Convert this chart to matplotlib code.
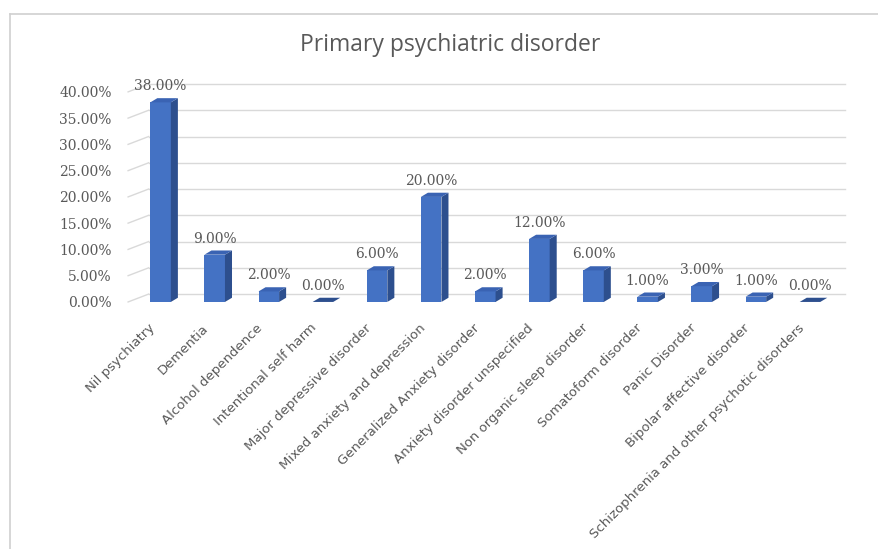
import matplotlib
matplotlib.use("Agg")
import matplotlib.pyplot as plt
from matplotlib.patches import Polygon
from matplotlib.lines import Line2D

categories = ["Nil psychiatry", "Dementia", "Alcohol dependence", "Intentional self harm",
              "Major depressive disorder", "Mixed anxiety and depression",
              "Generalized Anxiety disorder", "Anxiety disorder unspecified",
              "Non organic sleep disorder", "Somatoform disorder", "Panic Disorder",
              "Bipolar affective disorder", "Schizophrenia and other psychotic disorders"]
values = [38, 9, 2, 0, 6, 20, 2, 12, 6, 1, 3, 1, 0]
yticks = [0, 5, 10, 15, 20, 25, 30, 35, 40]

front_col = '#4472c4'
side_col = '#2d4f8e'
top_col = '#3a63b3'
grid_col = '#d9d9d9'
text_col = '#595959'

fig = plt.figure(figsize=(8.79, 5.49), dpi=100, facecolor='white')
ax = fig.add_axes([0.1445, 0.450, 0.817, 0.397])
ax.set_xlim(-0.62, 12.65)
ax.set_ylim(0, 41.5)

# back wall offset (perspective)
wall_dx, wall_dy = 0.38, 1.5
for v in yticks:
    ax.plot([-0.6, -0.6 + wall_dx], [v, v + wall_dy], color=grid_col, lw=1, clip_on=False, zorder=1)
    ax.plot([-0.6 + wall_dx, 12.65], [v + wall_dy, v + wall_dy], color=grid_col, lw=1, clip_on=False, zorder=1)

# bars with a fake 3d look
w, dx, dy = 0.38, 0.13, 0.8
x = list(range(len(categories)))
ax.bar(x, values, width=w, color=front_col, zorder=3, linewidth=0)
for xi, v in zip(x, values):
    r = xi + w / 2
    l = xi - w / 2
    ax.add_patch(Polygon([(r, 0), (r + dx, dy), (r + dx, v + dy), (r, v)],
                         closed=True, fc=side_col, ec='none', zorder=3))
    ax.add_patch(Polygon([(l, v), (r, v), (r + dx, v + dy), (l + dx, v + dy)],
                         closed=True, fc=top_col if v > 0 else side_col, ec='none', zorder=4))
    ax.annotate(f"{v:.2f}%", (xi, v), xytext=(0, 11.5), textcoords='offset points',
                ha='center', va='center', fontsize=10, family='DejaVu Serif',
                color=text_col, annotation_clip=False)

ax.set_yticks(yticks)
ax.set_yticklabels([f"{v:.2f}%" for v in yticks], family='DejaVu Serif', fontsize=10, color=text_col)
ax.tick_params(axis='y', length=0, pad=11)
ax.set_xticks([])
for s in ax.spines.values():
    s.set_visible(False)

# category labels, rotated
for xi, c in zip(x, categories):
    ax.annotate(c, (xi, 0), xytext=(-9, -14), textcoords='offset points',
                ha='right', va='top', rotation=45, rotation_mode='anchor',
                fontsize=9.5, family='DejaVu Sans', color=text_col,
                annotation_clip=False)

fig.text(0.512, 0.918, "Primary psychiatric disorder", ha='center', va='center',
         fontsize=16.5, family='Open Sans', color=text_col)

# chart frame
fig.add_artist(Line2D([10 / 879, 1], [1 - 14 / 549, 1 - 14 / 549], color='#d0d0d0', lw=1.2))
fig.add_artist(Line2D([10 / 879, 10 / 879], [0, 1 - 14 / 549], color='#d0d0d0', lw=1.2))

fig.savefig("out.png", dpi=100)
